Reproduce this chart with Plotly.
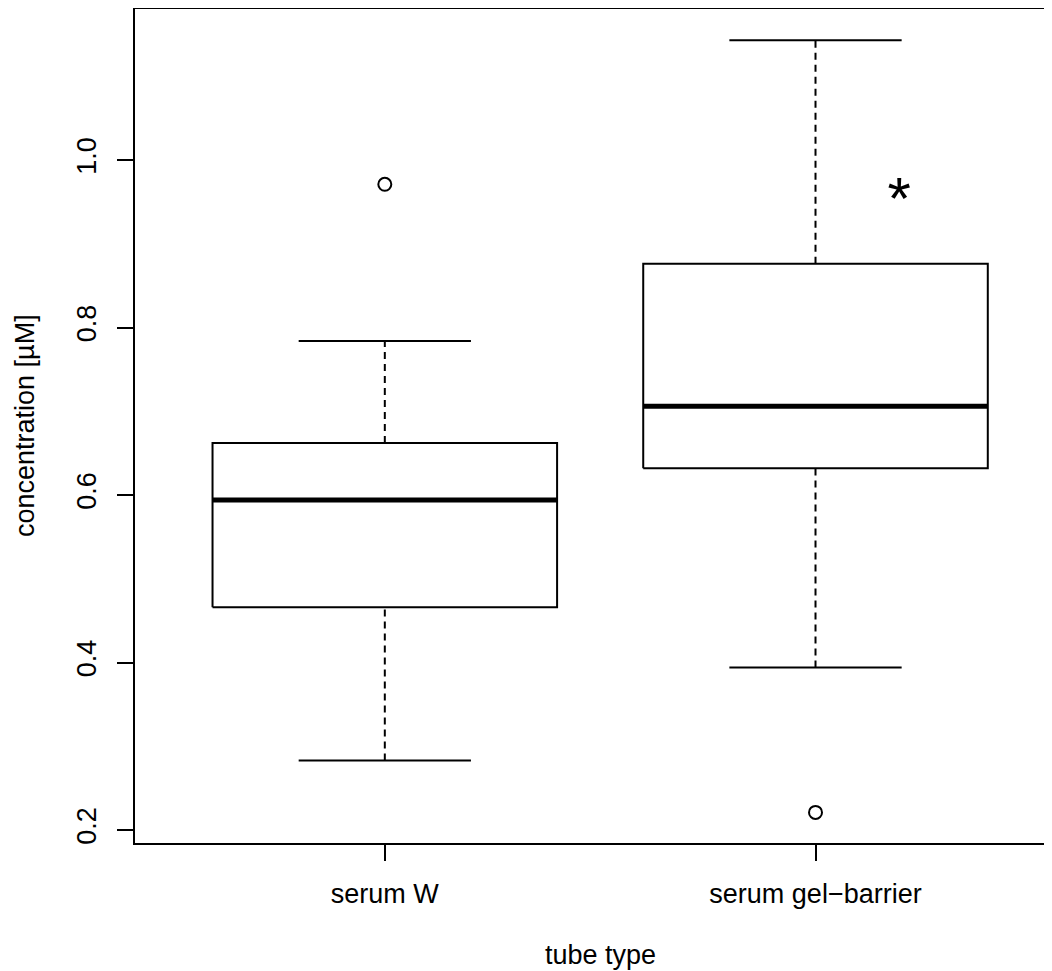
import plotly.graph_objects as go

# ---- data ----
categories = ["serum W", "serum gel\u2212barrier"]
positions = [1, 2]
lower_whisker = [0.283, 0.394]
q1 = [0.466, 0.632]
median = [0.594, 0.706]
q3 = [0.662, 0.876]
upper_whisker = [0.784, 1.143]
outliers = [[0.971], [0.221]]
y_ticks = [0.2, 0.4, 0.6, 0.8, 1.0]
y_tick_labels = ["0.2", "0.4", "0.6", "0.8", "1.0"]
star_x = [2.194]
star_y = [0.947]

BOX_HALF = 0.4
CAP_HALF = 0.2
FONT = "Liberation Sans, Arial, Helvetica, sans-serif"
FS = 27

fig = go.Figure()

for i, xc in enumerate(positions):
    # box outline
    fig.add_trace(go.Scatter(
        x=[xc - BOX_HALF, xc + BOX_HALF, xc + BOX_HALF, xc - BOX_HALF, xc - BOX_HALF],
        y=[q1[i], q1[i], q3[i], q3[i], q1[i]],
        mode="lines", line=dict(color="black", width=2), hoverinfo="skip"))
    # median
    fig.add_trace(go.Scatter(
        x=[xc - BOX_HALF, xc + BOX_HALF], y=[median[i], median[i]],
        mode="lines", line=dict(color="black", width=5), hoverinfo="skip"))
    # whiskers (dashed)
    fig.add_trace(go.Scatter(
        x=[xc, xc], y=[q3[i], upper_whisker[i]],
        mode="lines", line=dict(color="black", width=2, dash="7px,5px"), hoverinfo="skip"))
    fig.add_trace(go.Scatter(
        x=[xc, xc], y=[lower_whisker[i], q1[i]],
        mode="lines", line=dict(color="black", width=2, dash="7px,5px"), hoverinfo="skip"))
    # caps
    for v in (lower_whisker[i], upper_whisker[i]):
        fig.add_trace(go.Scatter(
            x=[xc - CAP_HALF, xc + CAP_HALF], y=[v, v],
            mode="lines", line=dict(color="black", width=2), hoverinfo="skip"))
    # outliers
    fig.add_trace(go.Scatter(
        x=[xc] * len(outliers[i]), y=outliers[i], mode="markers",
        marker=dict(symbol="circle-open", size=13, color="black", line=dict(width=2)),
        hoverinfo="skip"))

# significance star
fig.add_trace(go.Scatter(
    x=star_x, y=star_y, mode="text", text=["*"], textposition="middle center",
    textfont=dict(family=FONT, size=60, color="black"), hoverinfo="skip"))

# page body has an 8px margin, so the figure is 8px smaller and shifted
W, H = 1044, 963
fig.update_layout(
    width=W, height=H,
    margin=dict(l=127, r=0, t=1, b=128),
    paper_bgcolor="white", plot_bgcolor="white",
    showlegend=False,
    font=dict(family=FONT, size=FS, color="black"),
    xaxis=dict(
        range=[0.42, 0.42 + 917 / 430.7],
        tickvals=positions, ticktext=categories,
        showline=True, linecolor="black", linewidth=2, mirror=True,
        ticks="outside", ticklen=16, tickwidth=2, tickcolor="black",
        ticklabelstandoff=10,
        showgrid=False, zeroline=False,
        tickfont=dict(family=FONT, size=FS, color="black"),
    ),
    yaxis=dict(
        range=[0.2 - 13 / 837.5, 1.0 + 151 / 837.5],
        tickvals=y_ticks, ticktext=y_tick_labels, tickangle=-90,
        showline=True, linecolor="black", linewidth=2, mirror=False,
        ticks="outside", ticklen=16, tickwidth=2, tickcolor="black",
        ticklabelstandoff=10,
        showgrid=False, zeroline=False,
        tickfont=dict(family=FONT, size=FS, color="black"),
    ),
    annotations=[
        dict(text="tube type", xref="x", yref="paper", x=1.5, y=0,
             xanchor="center", yanchor="middle", yshift=-112, showarrow=False,
             font=dict(family=FONT, size=FS, color="black")),
        dict(text="concentration [\u00b5M]", xref="paper", yref="paper", x=0, y=0.5,
             xanchor="center", yanchor="middle", xshift=-110, textangle=-90,
             showarrow=False, font=dict(family=FONT, size=FS, color="black")),
    ],
)

fig.write_html("out.html")
